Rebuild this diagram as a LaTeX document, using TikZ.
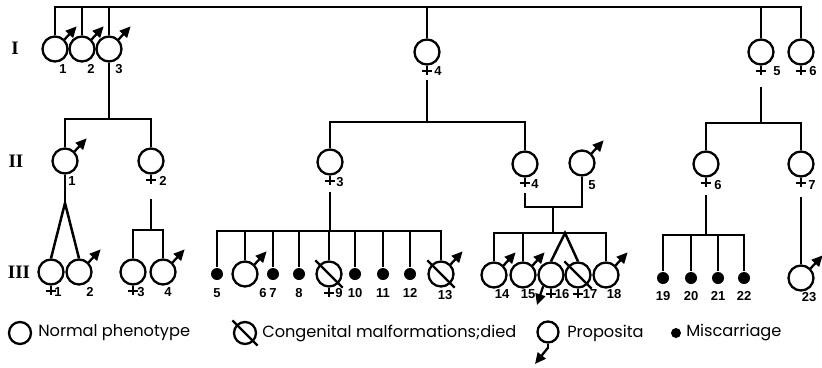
\documentclass[tikz,border=0pt]{standalone}
\usepackage{fontspec}
\setmainfont{Poppins}
\newfontfamily\numfont{Liberation Sans}
\newfontfamily\romfont{Liberation Serif}
\usetikzlibrary{arrows.meta,calc}
\newcommand\maleA[1]{\draw[marrow] (#1.45) -- ++(12,-13);}
\newcommand\femX[1]{\draw[sym] (#1.south) -- ++(0,9); \draw[sym] ($(#1.south)+(-5,5)$) -- ++(10,0);}
\newcommand\malfS[1]{\draw[sym] ($(#1.135)+(-4,-4)$) -- ($(#1.-45)+(4,4)$);}
\begin{document}
\begin{tikzpicture}[x=1pt,y=-1pt,line width=2.5pt,
 ind/.style={circle,draw,line width=2.3pt,minimum size=25pt,inner sep=0pt},
 dotn/.style={circle,fill,minimum size=12pt,inner sep=0pt},
 num/.style={font=\numfont\bfseries\fontsize{13}{13}\selectfont,inner sep=0pt},
 gen/.style={font=\romfont\bfseries\fontsize{19}{19}\selectfont,inner sep=0pt},
 leg/.style={font=\fontsize{16.2}{16.2}\selectfont,anchor=west,inner sep=0pt},
 sym/.style={line width=2.3pt},
 marrow/.style={line width=2.3pt,-{Triangle[length=11pt,width=10pt]}},
]
\useasboundingbox (0,0) rectangle (822,367);
% generation labels
\node[gen] (gI) at (15,48) {I};
\node[gen] (gII) at (16,161) {II};
\node[gen] (gIII) at (19,272) {III};
% generation I
\coordinate (top) at (0,7);
\node[ind] (I1) at (55,49) {};
\node[ind] (I2) at (82,49) {};
\node[ind] (I3) at (109,49) {};
\node[ind] (I4) at (427,52) {};
\node[ind] (I5) at (761,52) {};
\node[ind] (I6) at (801,52) {};
\draw (I1.north) -- (I1.north |- top) -- (I6.north |- top) -- (I6.north);
\foreach \n in {I2,I3,I4,I5} \draw (\n.north) -- (\n.north |- top);
\maleA{I1}\maleA{I2}\maleA{I3}
\femX{I4}\femX{I5}\femX{I6}
\node[num] (lI1) at (63,69) {1};
\node[num] (lI2) at (91,69) {2};
\node[num] (lI3) at (119,69) {3};
\node[num] (lI4) at (438,71) {4};
\node[num] (lI5) at (777,71) {5};
\node[num] (lI6) at (813,71) {6};
% generation II
\node[ind] (II1) at (65,161) {};
\node[ind] (II2) at (151,161) {};
\node[ind] (II3) at (330,162) {};
\node[ind] (II4) at (525,164) {};
\node[ind] (II5) at (582,163) {};
\node[ind] (II6) at (706,164) {};
\node[ind] (II7) at (801,164) {};
\coordinate (b1) at (109,119);
\draw (I3.south) -- (b1);
\draw (II1.north) |- (b1) -| (II2.north);
\coordinate (d4) at (427,80);
\coordinate (b4) at (427,122);
\draw (d4) -- (b4);
\draw (II3.north) |- (b4) -| (II4.north);
\coordinate (d5) at (761,87);
\coordinate (b5) at (761,123);
\draw (d5) -- (b5);
\draw (II6.north) |- (b5) -| (II7.north);
\maleA{II1}\maleA{II5}
\femX{II2}\femX{II3}\femX{II4}\femX{II6}\femX{II7}
\node[num] (lII1) at (72,181) {1};
\node[num] (lII2) at (163,181) {2};
\node[num] (lII3) at (340,182) {3};
\node[num] (lII4) at (535,184) {4};
\node[num] (lII5) at (592,185) {5};
\node[num] (lII6) at (718,185) {6};
\node[num] (lII7) at (812,185) {7};
% generation III
\node[ind] (III1) at (51,272) {};
\node[ind] (III2) at (79,272) {};
\node[ind] (III3) at (133,272) {};
\node[ind] (III4) at (163,272) {};
\coordinate (ap1) at (65,203);
\draw (II1.south) -- (ap1);
\draw (III1.north) -- (ap1) -- (III2.north);
\coordinate (d22) at (151,199);
\coordinate (b22) at (151,230);
\draw (d22) -- (b22);
\draw (III3.north) |- (b22) -| (III4.north);
\femX{III1}\femX{III3}\maleA{III2}\maleA{III4}
\node[num] (lIII1) at (58,292) {1};
\node[num] (lIII2) at (90,292) {2};
\node[num] (lIII3) at (141,292) {3};
\node[num] (lIII4) at (168,292) {4};
% children of II-3
\node[dotn] (K5) at (217,274) {};
\node[ind] (III6) at (245,274) {};
\node[dotn] (K7) at (273,274) {};
\node[dotn] (K8) at (299,274) {};
\node[ind] (III9) at (329,274) {};
\node[dotn] (K10) at (355,274) {};
\node[dotn] (K11) at (383,274) {};
\node[dotn] (K12) at (410,274) {};
\node[ind] (III13) at (441,274) {};
\coordinate (d23) at (330,192);
\coordinate (b23) at (330,231);
\draw (d23) -- (b23);
\draw (K5.north) |- (b23) -| (III13.north);
\foreach \n in {III6,K7,K8,III9,K10,K11,K12} \draw (\n.north) -- (\n.north |- b23);
\maleA{III6}\maleA{III13}
\femX{III9}
\malfS{III9}\malfS{III13}
\node[num] (lIII5) at (217,293) {5};
\node[num] (lIII6) at (263,293) {6};
\node[num] (lIII7) at (273,293) {7};
\node[num] (lIII8) at (299,293) {8};
\node[num] (lIII9) at (339,293) {9};
\node[num] (lIII10) at (355,293) {10};
\node[num] (lIII11) at (383,293) {11};
\node[num] (lIII12) at (410,293) {12};
\node[num] (lIII13) at (445,295) {13};
% children of II-4 and II-5
\node[ind] (III14) at (494,275) {};
\node[ind] (III15) at (523,275) {};
\node[ind] (III16) at (551,275) {};
\node[ind] (III17) at (578,275) {};
\node[ind] (III18) at (606,275) {};
\coordinate (d24) at (525,193);
\coordinate (m4) at (525,207);
\draw (d24) -- (m4) -| (II5.south);
\coordinate (m45) at (553,207);
\coordinate (b45) at (553,233);
\draw (m45) -- (b45);
\draw (III14.north) |- (b45) -| (III18.north);
\draw (III15.north) -- (III15.north |- b45);
\coordinate (tw) at (565,233);
\draw (III16.north) -- (tw) -- (III17.north);
\maleA{III14}\maleA{III15}\maleA{III18}
\femX{III16}\femX{III17}
\malfS{III17}
\coordinate (p16) at (537,305);
\draw[marrow] (III16.235) -- (p16);
\node[num] (lIII14) at (502,294) {14};
\node[num] (lIII15) at (528,294) {15};
\node[num] (lIII16) at (562,294) {16};
\node[num] (lIII17) at (590,294) {17};
\node[num] (lIII18) at (614,294) {18};
% children of II-6
\node[dotn] (K19) at (663,278) {};
\node[dotn] (K20) at (691,278) {};
\node[dotn] (K21) at (718,278) {};
\node[dotn] (K22) at (744,278) {};
\coordinate (d26) at (706,195);
\coordinate (b26) at (706,235);
\draw (d26) -- (b26);
\draw (K19.north) |- (b26) -| (K22.north);
\foreach \n in {K20,K21} \draw (\n.north) -- (\n.north |- b26);
\node[num] (lIII19) at (663,296) {19};
\node[num] (lIII20) at (691,296) {20};
\node[num] (lIII21) at (718,296) {21};
\node[num] (lIII22) at (744,296) {22};
% child of II-7
\node[ind] (III23) at (801,278) {};
\coordinate (d27) at (801,197);
\draw (d27) -- (III23.north);
\maleA{III23}
\node[num] (lIII23) at (809,297) {23};
% legend
\node[ind,minimum size=22pt] (L1) at (20,333) {};
\node[leg] (T1) at (37,333) {Normal phenotype};
\node[ind,minimum size=22pt] (L2) at (245,333) {};
\malfS{L2}
\node[leg] (T2) at (261,333) {Congenital malformations;died};
\node[ind,minimum size=21pt] (L3) at (548,332) {};
\coordinate (p3) at (535,364);
\draw[sym] (L3.south) -- ++(0,5);
\draw[marrow] ($(L3.south)+(0,4)$) -- (p3);
\node[leg] (T3) at (566,333) {Proposita};
\node[dotn,minimum size=10pt] (L4) at (676,333) {};
\node[leg] (T4) at (685,333) {Miscarriage};
\end{tikzpicture}
\end{document}
